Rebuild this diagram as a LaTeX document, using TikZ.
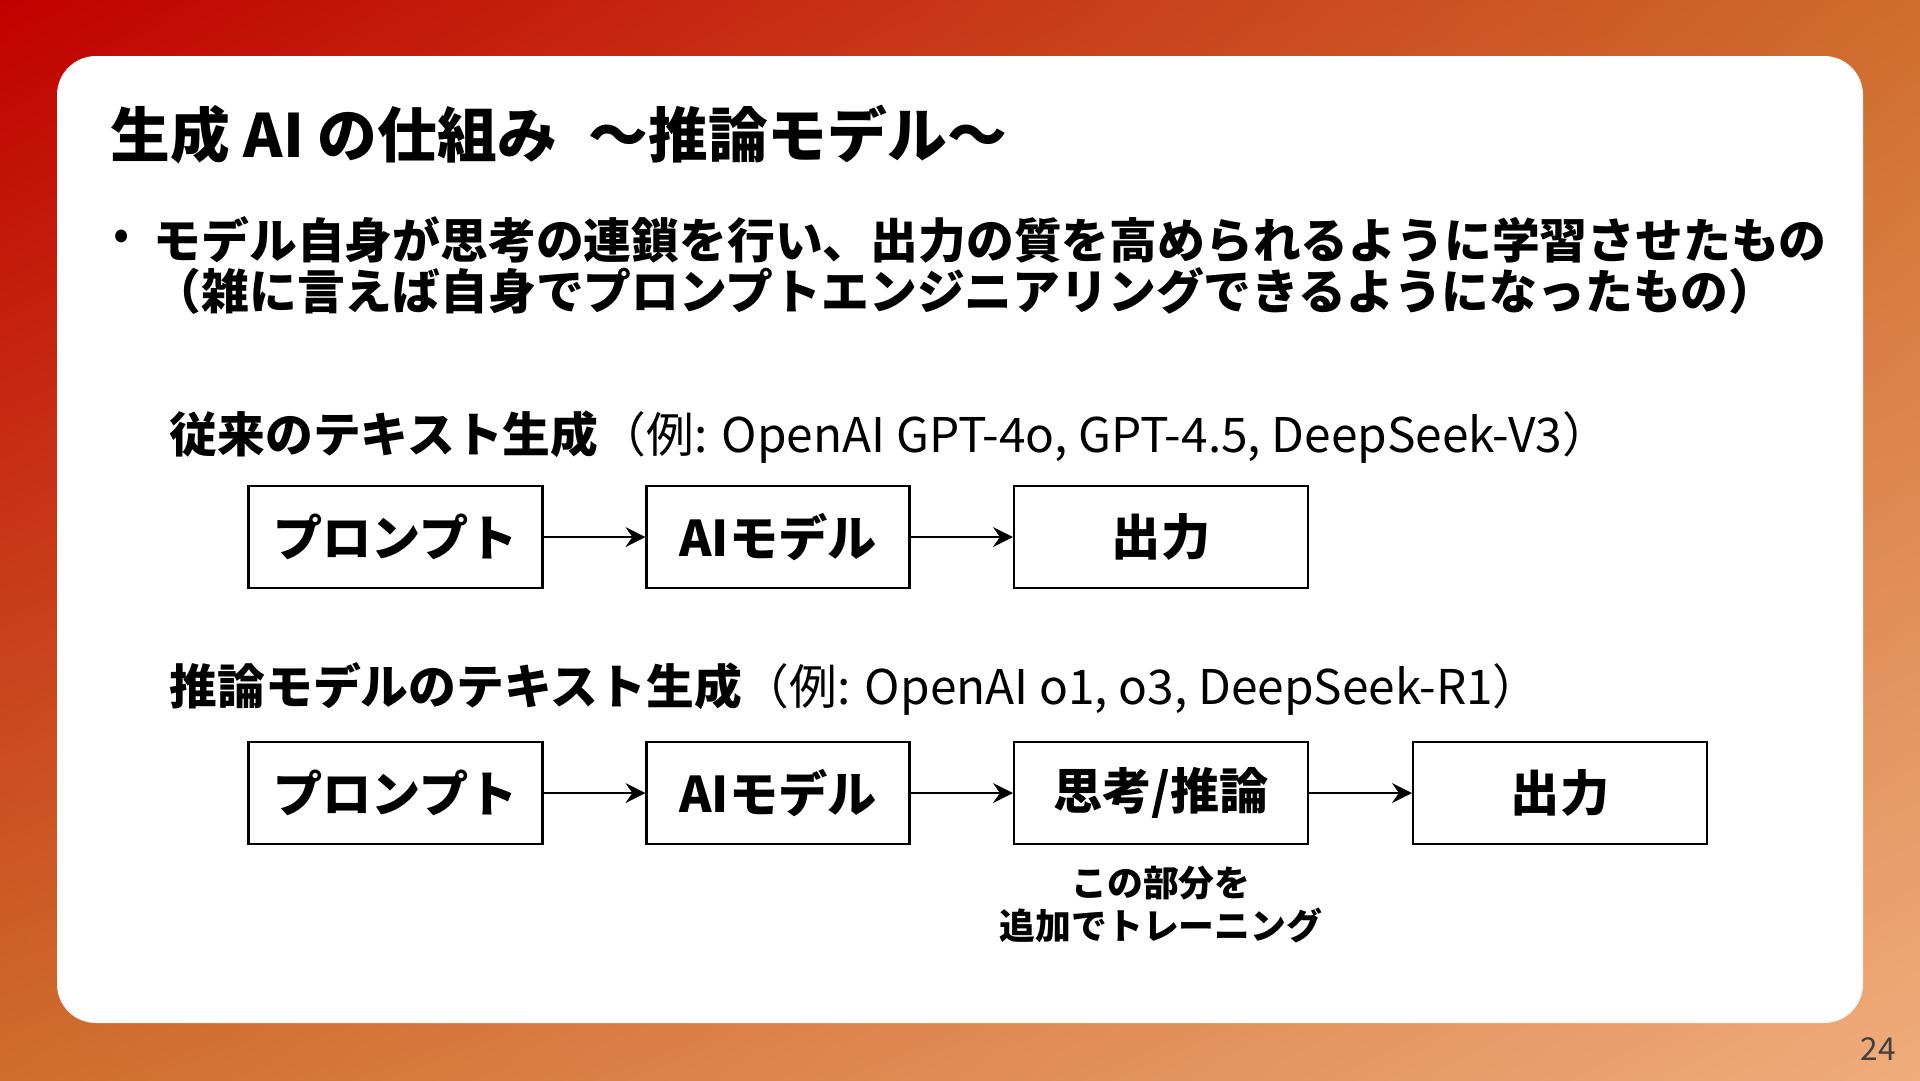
\documentclass[tikz,border=0pt]{standalone}
\usepackage{fontspec}
\setmainfont{Noto Sans CJK JP}
\usepackage{tikz}
\usetikzlibrary{arrows.meta,shadings}
\definecolor{bgred}{HTML}{C00000}
\definecolor{bgorange}{HTML}{CF6D2D}
\definecolor{bgpeach}{HTML}{F0AC7C}
\definecolor{pagegray}{HTML}{404040}
\def\fsize#1#2{\fontsize{#1}{#2}\selectfont}
\tikzset{
  stepbox/.style={draw=black, line width=0.6pt, minimum height=10.2mm, inner sep=0pt, font=\fsize{14pt}{16pt}\bfseries},
  flow/.style={line width=0.4pt, -{Stealth[length=2mm, width=2mm, inset=0.7mm]}}
}

\begin{document}
\begin{tikzpicture}[x=0.1mm, y=-0.1mm]
			%%%%% START %%%%%
			
			\useasboundingbox (0, 0) rectangle (1920, 1080);
			\shade[upper left=bgred, upper right=bgorange, lower left=bgorange, lower right=bgpeach] (0, 0) rectangle (1920, 1080);
			\fill[white, rounded corners=3.9mm] (57, 56) rectangle (1863, 1023);
			
			\node[anchor=west, inner sep=0pt, font=\fsize{17pt}{20pt}\bfseries] (title) at (110, 135) {生成 AI の仕組み\hspace{1.8mm} ～推論モデル～};
			
			\node[inner sep=0pt, font=\fsize{13.6pt}{15pt}] (dot) at (122, 240) {•};
			\node[anchor=west, inner sep=0pt, align=left, font=\fsize{13.6pt}{14.5pt}\bfseries] (lead) at (153, 265.5) {モデル自身が思考の連鎖を行い、出力の質を高められるように学習させたもの\\（雑に言えば自身でプロンプトエンジニアリングできるようになったもの）};
			
			\node[anchor=west, inner sep=0pt, font=\fsize{13.6pt}{15pt}] (headA) at (169, 437) {\textbf{従来のテキスト生成}（例: OpenAI GPT-4o, GPT-4.5, DeepSeek-V3）};
			
			\node[stepbox, minimum width=29.4mm] (promptA) at (395.5, 537) {プロンプト};
			\node[stepbox, minimum width=26.3mm] (modelA) at (778, 537) {AIモデル};
			\node[stepbox, minimum width=29.4mm] (outA) at (1161, 537) {出力};
			\draw[flow] (promptA) -- (modelA);
			\draw[flow] (modelA) -- (outA);
			
			\node[anchor=west, inner sep=0pt, font=\fsize{13.6pt}{15pt}] (headB) at (169, 689) {\textbf{推論モデルのテキスト生成}（例: OpenAI o1, o3, DeepSeek-R1）};
			
			\node[stepbox, minimum width=29.4mm] (promptB) at (395.5, 793) {プロンプト};
			\node[stepbox, minimum width=26.3mm] (modelB) at (778, 793) {AIモデル};
			\node[stepbox, minimum width=29.4mm] (think) at (1161, 793) {思考/推論};
			\node[stepbox, minimum width=29.4mm] (outB) at (1560, 793) {出力};
			\draw[flow] (promptB) -- (modelB);
			\draw[flow] (modelB) -- (think);
			\draw[flow] (think) -- (outB);
			
			\node[inner sep=0pt, align=center, font=\fsize{10.2pt}{12.2pt}\bfseries] (note) at (1161, 905) {この部分を\\追加でトレーニング};
			
			\node[inner sep=0pt, text=pagegray, font=\fsize{9pt}{10pt}] (page) at (1878, 1049) {24};
			
			%%%%% END %%%%%
\end{tikzpicture}
\end{document}
